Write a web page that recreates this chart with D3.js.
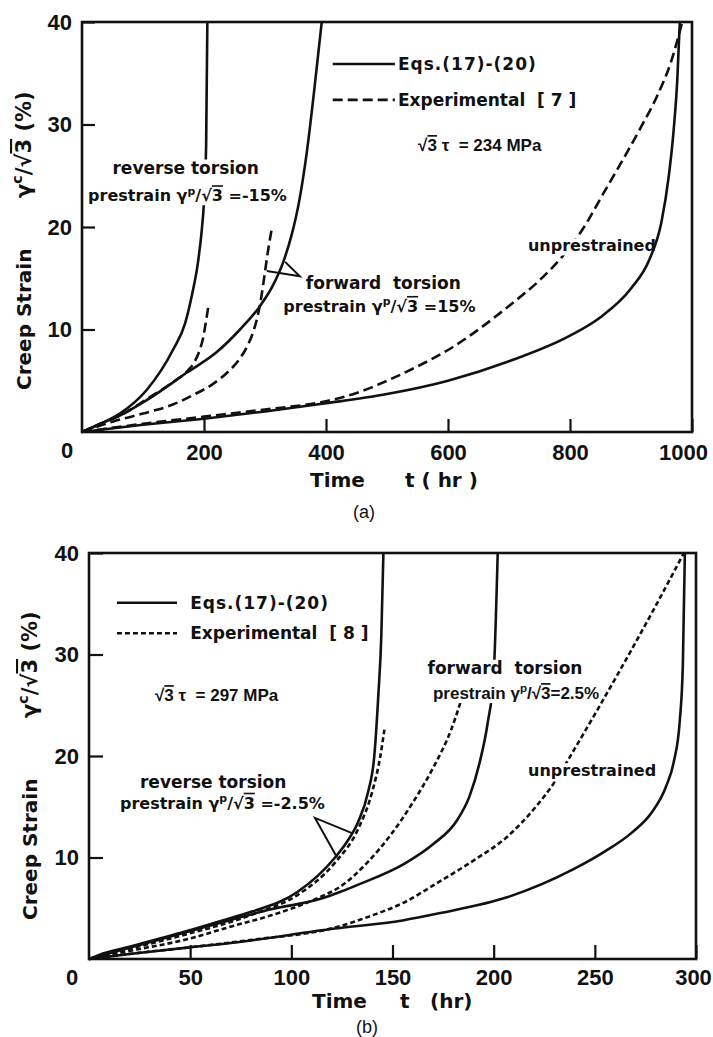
<!DOCTYPE html>
<html>
<head>
<meta charset="utf-8">
<script src="https://cdn.jsdelivr.net/npm/d3@7"></script>
<style>
  body { margin: 0; background: #fff; }
  svg text { font-family: "DejaVu Sans", sans-serif; font-weight: bold; fill: #111; white-space: pre; }
  svg .tk text, svg text.lib { font-family: "Liberation Sans", Arial, sans-serif; }
</style>
</head>
<body>
<div id="chart"></div>
<script>
// creep strain (%) vs time (hr)

// (a) sqrt3*tau = 234 MPa
var aTicksX = [200, 400, 600, 800, 1000];
var aTicksY = [10, 20, 30, 40];
var aRevEq  = [[0,0],[30,0.8],[62,1.8],[106,4.1],[149,8.0],[169,10.6],[180,13.3],[190,16.5],[196,19.5],[200,22.5],[203.5,28],[205.5,40]];
var aRevExp = [[0,0],[30,0.8],[62,1.6],[106,3.2],[150,4.9],[172,5.9],[185,6.9],[193,8.0],[199,9.3],[203,10.7],[207,12.2]];
var aFwdEq  = [[0,0],[30,0.8],[62,1.6],[106,3.1],[172,5.8],[221,7.8],[259,10.0],[292,12.3],[313,14.3],[330,16.6],[344,19.3],[356,22.5],[369,27.5],[381,33.5],[393,40]];
var aFwdExp = [[0,0],[50,1.0],[100,1.8],[150,2.7],[182,3.6],[215,4.7],[240,5.9],[258,7.1],[272,8.5],[282,10.0],[289,11.6],[294,13.2],[299,15.2],[304,17.3],[311,19.8]];
var aUnEq   = [[0,0],[100,0.7],[200,1.3],[300,2.0],[400,2.8],[500,3.7],[600,5.0],[700,6.9],[800,9.4],[850,11.2],[900,14.0],[930,16.8],[950,20.5],[962,25],[970,29.5],[976,34.5],[980,40]];
var aUnExp  = [[0,0],[100,0.8],[200,1.5],[300,2.2],[400,3.0],[450,3.8],[500,5.0],[550,6.4],[600,8.0],[650,10.0],[700,12.3],[750,14.8],[790,17.3],[821,19.8],[855,23.3],[887,26.6],[915,29.6],[943,32.8],[965,36.0],[984,40]];

// (b) sqrt3*tau = 297 MPa
var bTicksX = [50, 100, 150, 200, 250, 300];
var bTicksY = [10, 20, 30, 40];
var bRevEq  = [[0,0],[5,0.4],[20,1.2],[47.5,2.7],[71,4.1],[81,4.7],[103,6.6],[121.6,10.0],[128,11.7],[133,13.5],[138,16.5],[141,20],[143,26],[144.5,32],[145.5,40]];
var bRevExp = [[0,0],[20,1.0],[47.5,2.4],[81,4.4],[103,6.3],[121.6,9.5],[133,12.8],[140,16.5],[144,20],[146,22.6]];
var bFwdEq  = [[0,0],[20,1.1],[47.5,2.6],[71,3.9],[90,4.9],[114,5.9],[124,6.6],[134,7.4],[156,9.4],[170,11.3],[182,13.7],[188,16.0],[193,19.3],[197,23.2],[200,28],[202,40]];
var bFwdExp = [[0,0],[20,0.8],[47.5,1.9],[72,3.3],[90,4.3],[113,6.0],[124,7.1],[138,9.6],[149,12.2],[160,15.4],[170,18.8],[179,22.6],[187,27.5]];
var bUnEq   = [[0,0],[20,0.5],[47.5,1.1],[71,1.6],[121.6,3.0],[155,3.8],[173,4.5],[207,6.1],[239,8.8],[255,10.6],[268,12.4],[278,14.4],[285,16.9],[289,19.4],[292,23.5],[293.5,29],[294.5,40]];
var bUnExp  = [[0,0],[20,0.5],[52,1.2],[81,1.9],[121.6,3.1],[140,4.3],[155,5.5],[173,7.6],[190,9.7],[207,12.1],[220,14.8],[230,17.4],[240,20.7],[252,24.8],[264,29.0],[279,34.4],[294,40]];

var legendNames = ["Eqs.(17)-(20)", "Experimental  [ 7 ]", "Experimental  [ 8 ]"];

var W = 713, H = 1037;
var svg = d3.select("#chart").append("svg").attr("width", W).attr("height", H);

// text with superscript / overline pieces
function rich(g, px, py, pieces, size, anchor) {
  var t = g.append("text").attr("x", px).attr("y", py)
    .attr("xml:space", "preserve")
    .style("font-size", size + "px")
    .attr("text-anchor", anchor || "start");
  var up = false, sh = size * 0.42;
  pieces.forEach(function(p) {
    var s = t.append("tspan").text(p.t);
    if (p.sup) { s.attr("dy", -sh).style("font-size", (size * 0.68) + "px"); up = true; }
    else if (up) { s.attr("dy", sh); up = false; }
    if (p.over) s.style("text-decoration", "overline");
  });
  return t;
}
function gam(pre, sup, post) {
  return [{t: pre + "\u03b3"}, {t: sup, sup: true}, {t: "/\u221a"}, {t: "3", over: true}, {t: post}];
}

function panel(cfg) {
  var x = d3.scaleLinear().domain([0, cfg.xMax]).range([cfg.left, cfg.right]);
  var y = d3.scaleLinear().domain([0, 40]).range([cfg.bottom, cfg.top]);
  var g = svg.append("g");

  var line = d3.line().x(function(d){ return x(d[0]); }).y(function(d){ return y(d[1]); })
    .curve(d3.curveMonotoneX);

  cfg.series.forEach(function(s) {
    g.append("path").datum(s.data).attr("d", line)
      .attr("fill", "none").attr("stroke", "#111").attr("stroke-width", 2.6)
      .attr("stroke-dasharray", s.dashed ? cfg.dash : null);
  });

  // curve labels (some blank out the lines behind them, as in the print)
  cfg.labels.forEach(function(L) {
    var lab = g.append("g");
    L.rows.forEach(function(r) {
      var t = rich(lab, x(r[0]), y(r[1]) + 6, r[2], r[4] || 17, r[3]);
      if (r[5]) t.attr("class", "lib");
    });
    if (L.mask) {
      var b = lab.node().getBBox();
      lab.insert("rect", ":first-child").attr("x", b.x - 2).attr("y", b.y + 2)
        .attr("width", b.width + 2 - (L.trim || 0)).attr("height", b.height - 2).attr("fill", "#fff");
    }
  });

  // axes, ticks pointing inward
  var ax = g.append("g").attr("class", "tk").attr("transform", "translate(0," + cfg.bottom + ")")
    .call(d3.axisBottom(x).tickValues(cfg.xTicks).tickSize(-cfg.tick).tickPadding(cfg.padX).tickFormat(d3.format("d")));
  var ay = g.append("g").attr("class", "tk").attr("transform", "translate(" + cfg.left + ",0)")
    .call(d3.axisLeft(y).tickValues(cfg.yTicks).tickSize(-cfg.tick).tickPadding(cfg.padY).tickFormat(d3.format("d")));
  [ax, ay].forEach(function(a) {
    a.select(".domain").remove();
    a.selectAll("line").attr("stroke", "#111").attr("stroke-width", 2.2);
    a.selectAll("text").style("font-size", "22px");
  });
  ax.selectAll(".tick text").filter(function(d){ return d === cfg.xMax; }).attr("dx", cfg.lastDx);
  g.append("rect").attr("x", x(0)).attr("y", y(40))
    .attr("width", x(cfg.xMax) - x(0)).attr("height", y(0) - y(40))
    .attr("fill", "none").attr("stroke", "#111").attr("stroke-width", 2.6);
  g.append("text").attr("class", "lib").attr("x", cfg.zeroX).attr("y", cfg.bottom + cfg.zeroDy)
    .attr("text-anchor", "middle").style("font-size", "22px").text("0");

  // axis titles
  g.append("text").attr("transform", "translate(" + cfg.yTitleX + "," + cfg.yTitle1 + ") rotate(-90)")
    .style("font-size", "20px").text("Creep Strain");
  rich(g, 0, 0, gam("", "c", " (%)"), 21).attr("transform", "translate(" + cfg.yTitleX + "," + cfg.yTitle2 + ") rotate(-90)");
  cfg.xTitle.forEach(function(p) {
    g.append("text").attr("x", p[0]).attr("y", cfg.xTitleY).style("font-size", "20px").text(p[1]);
  });
  g.append("text").attr("class", "lib").attr("x", cfg.capX).attr("y", cfg.capY).attr("text-anchor", "middle")
    .style("font-size", "18px").style("font-weight", "normal").text(cfg.caption);

  // legend
  var lg = cfg.legend;
  [0, 1].forEach(function(i) {
    var ly = y(lg.y[i]);
    g.append("line").attr("x1", x(lg.x0)).attr("x2", x(lg.x1)).attr("y1", ly).attr("y2", ly)
      .attr("stroke", "#111").attr("stroke-width", 2.6)
      .attr("stroke-dasharray", i ? cfg.dash : null);
    g.append("text").attr("x", x(lg.tx)).attr("y", ly + 6).style("font-size", "17px")
      .style("letter-spacing", i ? null : "1px").text(lg.names[i]);
  });
  rich(g, x(cfg.tau[0]), y(cfg.tau[1]) + 6, [{t: "\u221a"}, {t: "3", over: true}, {t: " \u03c4  = " + cfg.tau[2]}], 17)
    .attr("class", "lib");

  // pointer triangle
  var tr = cfg.pointer;
  g.append("path")
    .attr("d", "M" + x(tr[1][0]) + "," + y(tr[1][1]) + "L" + x(tr[0][0]) + "," + y(tr[0][1]) + "L" + x(tr[2][0]) + "," + y(tr[2][1]))
    .attr("fill", "none").attr("stroke", "#111").attr("stroke-width", 2);
}

panel({
  left: 82, right: 692, top: 22, bottom: 432, xMax: 1000,
  xTicks: aTicksX, yTicks: aTicksY, tick: 13, padX: 12, padY: 10, lastDx: -9,
  dash: "10,5", zeroX: 67, zeroDy: 26,
  series: [
    {data: aRevEq}, {data: aRevExp, dashed: true},
    {data: aFwdEq}, {data: aFwdExp, dashed: true},
    {data: aUnEq}, {data: aUnExp, dashed: true}
  ],
  yTitleX: 31, yTitle1: 390, yTitle2: 198,
  xTitle: [[310, "Time"], [405, "t ( hr )"]], xTitleY: 487,
  caption: "(a)", capX: 364, capY: 518,
  legend: {x0: 411, x1: 513, tx: 518, y: [35.9, 32.4], names: [legendNames[0], legendNames[1]]},
  tau: [551, 28.0, "234 MPa"],
  labels: [
    {mask: true, rows: [
      [170, 25.8, [{t: "reverse torsion"}], "middle"],
      [10, 23.1, gam("prestrain ", "p", " =-15%"), null, 16]
    ]},
    {rows: [
      [367, 14.5, [{t: "forward  torsion"}]],
      [330, 12.3, gam("prestrain ", "p", " =15%"), null, 16]
    ]},
    {mask: true, trim: 16, rows: [[731, 18.2, [{t: "unprestrained"}], null, 16]]}
  ],
  pointer: [[357, 15.2], [333, 16.6], [303, 15.7]]
});

panel({
  left: 89, right: 696, top: 553, bottom: 959, xMax: 300,
  xTicks: bTicksX, yTicks: bTicksY, tick: 14, padX: 10, padY: 10, lastDx: -3,
  dash: "5,3", zeroX: 72, zeroDy: 26,
  series: [
    {data: bRevEq}, {data: bRevExp, dashed: true},
    {data: bFwdEq}, {data: bFwdExp, dashed: true},
    {data: bUnEq}, {data: bUnExp, dashed: true}
  ],
  yTitleX: 37, yTitle1: 920, yTitle2: 718,
  xTitle: [[312, "Time"], [400, "t"], [430, "(hr)"]], xTitleY: 1008,
  caption: "(b)", capX: 367, capY: 1033,
  legend: {x0: 13.8, x1: 43.5, tx: 50, y: [35.1, 32.1], names: [legendNames[0], legendNames[2]]},
  tau: [32.6, 26.0, "297 MPa"],
  labels: [
    {mask: true, rows: [
      [205.6, 28.7, [{t: "forward  torsion"}], "middle"],
      [170, 26.2, gam("prestrain ", "p", "=2.5%"), null, 17, true]
    ]},
    {mask: true, trim: 4, rows: [[217, 18.6, [{t: "unprestrained"}], null, 16]]},
    {rows: [
      [25.2, 17.4, [{t: "reverse torsion"}]],
      [15.3, 15.4, gam("prestrain ", "p", " =-2.5%"), null, 16]
    ]}
  ],
  pointer: [[111.7, 13.9], [130, 12.4], [122.6, 10.0]]
});
</script>
</body>
</html>
